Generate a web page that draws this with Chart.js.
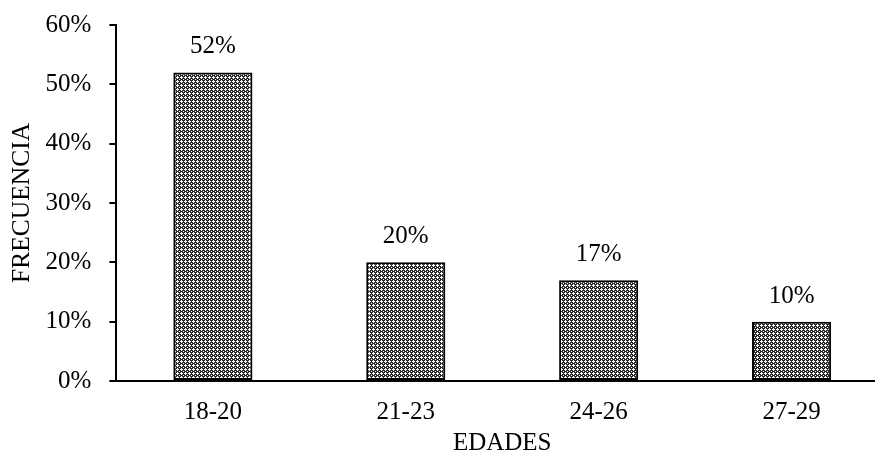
<!DOCTYPE html>
<html>
<head>
<meta charset="utf-8">
<script src="https://cdn.jsdelivr.net/npm/chart.js@4.4.1/dist/chart.umd.min.js"></script>
<style>
  html, body { margin: 0; padding: 0; background: #fff; overflow: hidden; }
  #wrap { width: 875px; height: 459px; overflow: hidden; position: relative; }
  #box { width: 890px; height: 467px; position: absolute; left: 0; top: -8px; }
</style>
</head>
<body>
<div id="wrap"><div id="box"><canvas id="c"></canvas></div></div>
<script>
// Age groups and their share of respondents
const categories = ['18-20', '21-23', '24-26', '27-29'];
const frecuencia = [52, 20, 17, 10];
const yTicks = [0, 10, 20, 30, 40, 50, 60];

const FONT = "'Liberation Serif', 'Times New Roman', serif";
const FS = 25;

// Small lattice fill for the bars (white crosses on dark)
function makePattern() {
  const p = document.createElement('canvas');
  p.width = 4; p.height = 4;
  const g = p.getContext('2d');
  g.fillStyle = '#2a2a2a';
  g.fillRect(0, 0, 4, 4);
  g.fillStyle = '#ffffff';
  [[1,0],[0,1],[1,1],[2,1],[1,2],[3,3]].forEach(([x, y]) => g.fillRect(x, y, 1, 1));
  return document.getElementById('c').getContext('2d').createPattern(p, 'repeat');
}

// Percentage labels above each bar
const valueLabels = {
  id: 'valueLabels',
  afterDatasetsDraw(chart) {
    const ctx = chart.ctx;
    const meta = chart.getDatasetMeta(0);
    const data = chart.data.datasets[0].data;
    ctx.save();
    ctx.font = FS + 'px ' + FONT;
    ctx.fillStyle = '#000';
    ctx.textAlign = 'center';
    ctx.textBaseline = 'alphabetic';
    meta.data.forEach((bar, i) => {
      ctx.fillText(data[i] + '%', bar.x, bar.y - 19);
    });
    ctx.restore();
  }
};

new Chart(document.getElementById('c'), {
  type: 'bar',
  data: {
    labels: categories,
    datasets: [{
      data: frecuencia,
      backgroundColor: makePattern(),
      borderColor: '#000',
      borderWidth: 2,
      borderSkipped: false,
      categoryPercentage: 1.0,
      barPercentage: 0.41
    }]
  },
  options: {
    responsive: true,
    maintainAspectRatio: false,
    animation: false,
    layout: { padding: { top: 0, left: 3, right: 2, bottom: 1 } },
    plugins: {
      legend: { display: false },
      tooltip: { enabled: false }
    },
    scales: {
      x: {
        grid: { display: false, drawTicks: false },
        border: { color: '#000', width: 2 },
        ticks: { color: '#000', font: { family: FONT, size: FS }, padding: 16 },
        title: {
          display: true, text: 'EDADES', color: '#000',
          font: { family: FONT, size: FS }, padding: { top: -15, bottom: 0 }
        }
      },
      y: {
        min: 0, max: 60,
        afterBuildTicks(scale) { scale.ticks = yTicks.map(v => ({ value: v })); },
        grid: { drawOnChartArea: false, drawTicks: true, tickLength: 7, color: '#000', lineWidth: 2 },
        border: { color: '#000', width: 2 },
        ticks: {
          color: '#000', font: { family: FONT, size: FS }, padding: 18,
          callback: v => v + '%'
        },
        title: {
          display: true, text: 'FRECUENCIA', color: '#000',
          font: { family: FONT, size: 25.5 }, padding: { top: 4, bottom: -10 }
        }
      }
    }
  },
  plugins: [valueLabels]
});
</script>
</body>
</html>
